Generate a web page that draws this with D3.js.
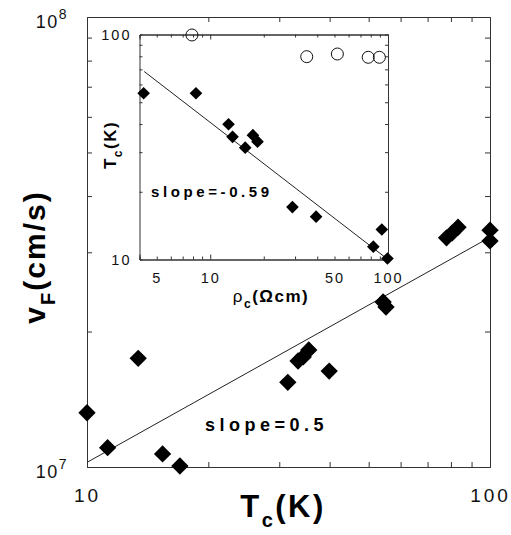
<!DOCTYPE html>
<html>
<head>
<meta charset="utf-8">
<script src="https://cdn.jsdelivr.net/npm/d3@7"></script>
<style>
  html, body { margin: 0; padding: 0; background: #fff; }
  svg { display: block; font-family: "Liberation Sans", Arial, Helvetica, sans-serif; }
</style>
</head>
<body>
<svg id="chart" width="511" height="535"></svg>
<script>
// ---------- data ----------
const mainTc = [10, 11.25, 13.4, 15.4, 17.0, 31.5, 33.4, 34.4, 35.5, 39.9, 54.3, 55.2, 78.0, 80.5, 83.3, 100, 100];
const mainVF = [1.32e7, 1.104e7, 1.744e7, 1.069e7, 1.005e7, 1.542e7, 1.72e7, 1.756e7, 1.82e7, 1.634e7, 2.326e7, 2.267e7, 3.23e7, 3.31e7, 3.41e7, 3.36e7, 3.18e7];
const mainFitTc = [10, 100];
const mainFitVF = [1.024e7, 3.24e7];
const mainXTicks = [10, 100];
const mainYTicks = [1e7, 1e8];
const mainMinorX = [20, 30, 40, 50, 60, 70, 80, 90];
const mainMinorY = [2e7, 3e7, 4e7, 5e7, 6e7, 7e7, 8e7, 9e7];

const insetRho = [4.22, 8.31, 12.67, 13.35, 15.73, 17.38, 18.45, 29.0, 39.4, 92.3, 82.7, 99.3];
const insetTc = [54.8, 54.8, 39.9, 35.1, 31.4, 35.7, 33.4, 17.1, 15.5, 13.6, 11.4, 10.1];
const openRho = [7.89, 34.9, 51.9, 77.4, 89.4];
const openTc = [99.5, 79.7, 81.9, 79.2, 79.2];
const insetFitRho = [4.25, 100];
const insetFitTc = [68.5, 10.0];
const insetXTicks = [5, 10, 50, 100];
const insetXMajor = [10, 100];
const insetXMinor = [5, 6, 7, 8, 9, 20, 30, 40, 50, 60, 70, 80, 90];
const insetYTicks = [10, 100];
const insetYMinor = [20, 30, 40, 50, 60, 70, 80, 90];

// ---------- layout ----------
const svg = d3.select("#chart");
const M = {x0: 87, x1: 490, y0: 17, y1: 467};
const I = {x0: 139.5, x1: 388, y0: 34.5, y1: 259.5};
const axisColor = "#333";

const x = d3.scaleLog().domain([10, 100]).range([M.x0, M.x1]);
const y = d3.scaleLog().domain([1e7, 1e8]).range([M.y1, M.y0]);
const xi = d3.scaleLog().domain([4, 100]).range([I.x0, I.x1]);
const yi = d3.scaleLog().domain([10, 100]).range([I.y1, I.y0]);

function styleAxis(g) {
  g.select(".domain").attr("stroke", axisColor).attr("stroke-width", 1);
  g.selectAll(".tick line").attr("stroke", axisColor).attr("stroke-width", 1);
}

function frame(xs, ys, box, minorX, minorY, tickLen, majorX, majorLen) {
  const gB = svg.append("g").attr("transform", `translate(0,${box.y1})`)
    .call(d3.axisBottom(xs).tickValues(minorX).tickSize(-tickLen).tickFormat(""));
  const gT = svg.append("g").attr("transform", `translate(0,${box.y0})`)
    .call(d3.axisTop(xs).tickValues(minorX).tickSize(-tickLen).tickFormat(""));
  const gL = svg.append("g").attr("transform", `translate(${box.x0},0)`)
    .call(d3.axisLeft(ys).tickValues(minorY).tickSize(-tickLen).tickFormat(""));
  const gR = svg.append("g").attr("transform", `translate(${box.x1},0)`)
    .call(d3.axisRight(ys).tickValues(minorY).tickSize(-tickLen).tickFormat(""));
  [gB, gT, gL, gR].forEach(styleAxis);
  if (majorX) {
    const gB2 = svg.append("g").attr("transform", `translate(0,${box.y1})`)
      .call(d3.axisBottom(xs).tickValues(majorX).tickSize(-majorLen).tickFormat(""));
    const gT2 = svg.append("g").attr("transform", `translate(0,${box.y0})`)
      .call(d3.axisTop(xs).tickValues(majorX).tickSize(-majorLen).tickFormat(""));
    [gB2, gT2].forEach(styleAxis);
  }
}

// ---------- main plot ----------
frame(x, y, M, mainMinorX, mainMinorY, 5);

// main tick labels
const gxl = svg.append("g").attr("transform", `translate(0,${M.y1 + 18})`)
  .call(d3.axisBottom(x).tickValues(mainXTicks).tickSize(0).tickFormat(d3.format("d")));
gxl.select(".domain").remove();
gxl.selectAll("text").attr("font-size", 19).attr("fill", "#111")
  .attr("font-family", "Liberation Sans, Arial, sans-serif").style("letter-spacing", "3px");

const gyl = svg.append("g").attr("transform", `translate(${M.x0 - 18},0)`)
  .call(d3.axisLeft(y).tickValues(mainYTicks).tickSize(0).tickFormat(""));
gyl.select(".domain").remove();
gyl.selectAll(".tick").each(function(d) {
  const t = d3.select(this).select("text");
  t.attr("font-size", 18).attr("fill", "#111").attr("x", -1).attr("y", 10).attr("dy", 0)
    .style("letter-spacing", "1.5px").attr("font-family", "Liberation Sans, Arial, sans-serif");
  t.append("tspan").text("10");
  t.append("tspan").attr("font-size", 14).attr("dy", "-0.6em").text(Math.round(Math.log10(d)));
});

// fit line
const line = d3.line().x(d => x(d[0])).y(d => y(d[1]));
svg.append("path").datum(d3.zip(mainFitTc, mainFitVF)).attr("d", line)
  .attr("fill", "none").attr("stroke", "#222").attr("stroke-width", 1);

// main points
const diamond = s => d3.symbol(d3.symbolSquare, s);
svg.append("g").selectAll("path").data(d3.zip(mainTc, mainVF)).join("path")
  .attr("d", diamond(150)())
  .attr("transform", d => `translate(${x(d[0])},${y(d[1])}) rotate(45)`)
  .attr("fill", "#000");

// main slope text
svg.append("text").attr("x", 205).attr("y", 431)
  .attr("font-size", 18).attr("font-weight", "bold").style("letter-spacing", "4.5px")
  .attr("fill", "#000").text("slope=0.5");

// main axis titles
const xt = svg.append("text").attr("x", 283).attr("y", 517).attr("text-anchor", "middle")
  .attr("font-size", 31).attr("font-weight", "bold").style("letter-spacing", "2.5px").attr("fill", "#000");
xt.append("tspan").text("T");
xt.append("tspan").attr("font-size", 20).attr("dy", 10).text("c");
xt.append("tspan").attr("dy", -10).text("(K)");

const yt = svg.append("text").attr("transform", "translate(45,257) rotate(-90)").attr("text-anchor", "middle")
  .attr("font-size", 30).attr("font-weight", "bold").style("letter-spacing", "2px").attr("fill", "#000");
yt.append("tspan").text("v");
yt.append("tspan").attr("font-size", 20).attr("dy", 10).text("F");
yt.append("tspan").attr("dy", -10).text("(cm/s)");

// ---------- inset ----------
svg.append("rect").attr("x", I.x0).attr("y", I.y0).attr("width", I.x1 - I.x0).attr("height", I.y1 - I.y0)
  .attr("fill", "#fff");
frame(xi, yi, I, insetXMinor, insetYMinor, 3, insetXMajor, 5);

const gixl = svg.append("g").attr("transform", `translate(0,${I.y1 + 10})`)
  .call(d3.axisBottom(xi).tickValues(insetXTicks).tickSize(0).tickFormat(d3.format("d")));
gixl.select(".domain").remove();
gixl.selectAll("text").attr("font-size", 14.5).attr("fill", "#111")
  .attr("font-family", "Liberation Sans, Arial, sans-serif").style("letter-spacing", "2px");

const giyl = svg.append("g").attr("transform", `translate(${I.x0 - 5},0)`)
  .call(d3.axisLeft(yi).tickValues(insetYTicks).tickSize(0).tickFormat(d3.format("d")));
giyl.select(".domain").remove();
giyl.selectAll("text").attr("font-size", 14.5).attr("fill", "#111")
  .attr("font-family", "Liberation Sans, Arial, sans-serif").style("letter-spacing", "2px");

const linei = d3.line().x(d => xi(d[0])).y(d => yi(d[1]));
svg.append("path").datum(d3.zip(insetFitRho, insetFitTc)).attr("d", linei)
  .attr("fill", "none").attr("stroke", "#222").attr("stroke-width", 1);

svg.append("g").selectAll("path").data(d3.zip(insetRho, insetTc)).join("path")
  .attr("d", diamond(80)())
  .attr("transform", d => `translate(${xi(d[0])},${yi(d[1])}) rotate(45)`)
  .attr("fill", "#000");

svg.append("g").selectAll("circle").data(d3.zip(openRho, openTc)).join("circle")
  .attr("cx", d => xi(d[0])).attr("cy", d => yi(d[1])).attr("r", 6)
  .attr("fill", "none").attr("stroke", "#111").attr("stroke-width", 1);

svg.append("text").attr("x", 151).attr("y", 197)
  .attr("font-size", 15).attr("font-weight", "bold").style("letter-spacing", "3.6px")
  .attr("fill", "#000").text("slope=-0.59");

const ixt = svg.append("text").attr("x", 271).attr("y", 302).attr("text-anchor", "middle")
  .attr("font-size", 17).attr("font-weight", "bold").style("letter-spacing", "1.5px").attr("fill", "#000");
ixt.append("tspan").attr("font-weight", "normal").text("ρ");
ixt.append("tspan").attr("font-size", 12).attr("dy", 6).text("c");
ixt.append("tspan").attr("dy", -6).text("(Ωcm)");

const iyt = svg.append("text").attr("transform", "translate(116,145) rotate(-90)").attr("text-anchor", "middle")
  .attr("font-size", 17).attr("font-weight", "bold").style("letter-spacing", "1.5px").attr("fill", "#000");
iyt.append("tspan").text("T");
iyt.append("tspan").attr("font-size", 12).attr("dy", 6).text("c");
iyt.append("tspan").attr("dy", -6).text("(K)");
</script>
</body>
</html>
